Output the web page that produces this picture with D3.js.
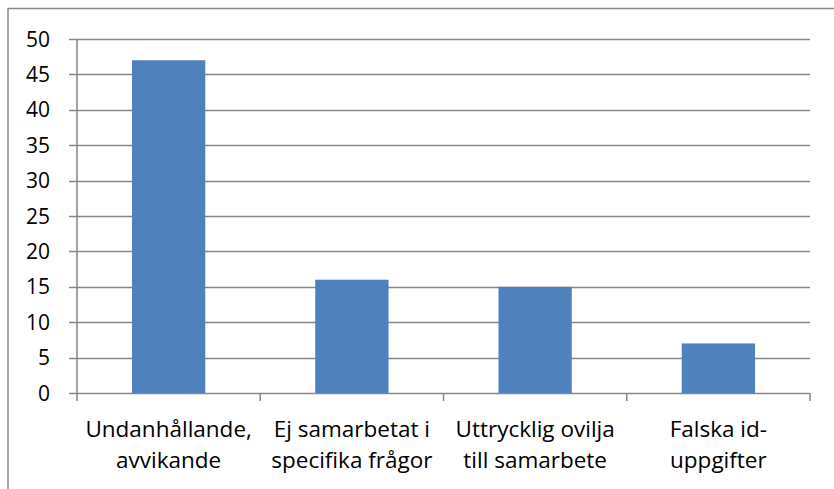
<!DOCTYPE html>
<html>
<head>
<meta charset="utf-8">
<script src="https://cdn.jsdelivr.net/npm/d3@7"></script>
<style>
body { margin: 0; background: #fff; }
text { font-family: "Open Sans", "Noto Sans", sans-serif; fill: #000; }
</style>
</head>
<body>
<svg width="834" height="489"></svg>
<script>
var svg = d3.select("svg"),
    width = +svg.attr("width"),
    height = +svg.attr("height");

// data
var categories = [
    ["Undanhållande,", "avvikande"],
    ["Ej samarbetat i", "specifika frågor"],
    ["Uttrycklig ovilja", "till samarbete"],
    ["Falska id-", "uppgifter"]
];
var values = [47, 16, 15, 7];
var yTicks = [0, 5, 10, 15, 20, 25, 30, 35, 40, 45, 50];

var plotLeft = 77, plotRight = 810, plotTop = 39, plotBottom = 393;

// outer chart border (runs off the right and bottom edge)
svg.append("rect")
    .attr("x", 8).attr("y", 8.5)
    .attr("width", 840).attr("height", 500)
    .attr("fill", "none")
    .attr("stroke", "#868686")
    .attr("stroke-width", 1.5);

var x = d3.scaleBand()
    .domain(d3.range(categories.length))
    .range([plotLeft, plotRight])
    .paddingInner(0.6)
    .paddingOuter(0.3);

var y = d3.scaleLinear()
    .domain([0, 50])
    .range([plotBottom, plotTop]);

// gridlines with tick stubs
svg.append("g")
    .selectAll("line")
    .data(yTicks)
    .enter().append("line")
    .attr("x1", plotLeft - 8)
    .attr("x2", plotRight)
    .attr("y1", function(d) { return Math.round(y(d)) + 0.5; })
    .attr("y2", function(d) { return Math.round(y(d)) + 0.5; })
    .attr("stroke", "#868686")
    .attr("stroke-width", 1.5);

// bars
svg.append("g")
    .selectAll("rect")
    .data(values)
    .enter().append("rect")
    .attr("x", function(d, i) { return x(i); })
    .attr("y", function(d) { return y(d); })
    .attr("width", x.bandwidth())
    .attr("height", function(d) { return y(0) - y(d); })
    .attr("fill", "#4F81BD");

// y axis line
svg.append("line")
    .attr("x1", plotLeft).attr("x2", plotLeft)
    .attr("y1", plotTop).attr("y2", plotBottom)
    .attr("stroke", "#868686")
    .attr("stroke-width", 1.5);

// x axis ticks at category boundaries
var step = (plotRight - plotLeft) / categories.length;
svg.append("g")
    .selectAll("line")
    .data(d3.range(categories.length + 1))
    .enter().append("line")
    .attr("x1", function(i) { return plotLeft + i * step; })
    .attr("x2", function(i) { return plotLeft + i * step; })
    .attr("y1", plotBottom)
    .attr("y2", plotBottom + 8)
    .attr("stroke", "#868686")
    .attr("stroke-width", 1.5);

// y tick labels
svg.append("g")
    .selectAll("text")
    .data(yTicks)
    .enter().append("text")
    .attr("x", 50)
    .attr("y", function(d) { return y(d); })
    .attr("dy", "0.36em")
    .attr("text-anchor", "end")
    .style("font-size", "21px")
    .text(function(d) { return d; });

// category labels
var lab = svg.append("g")
    .selectAll("text")
    .data(categories)
    .enter().append("text")
    .attr("text-anchor", "middle")
    .attr("transform", function(d, i) { return "translate(" + (plotLeft + (i + 0.5) * step) + ",0)"; })
    .style("font-size", "22.5px");

lab.selectAll("tspan")
    .data(function(d) { return d; })
    .enter().append("tspan")
    .attr("x", 0)
    .attr("y", function(d, j) { return 437 + j * 31; })
    .text(function(d) { return d; });
</script>
</body>
</html>
